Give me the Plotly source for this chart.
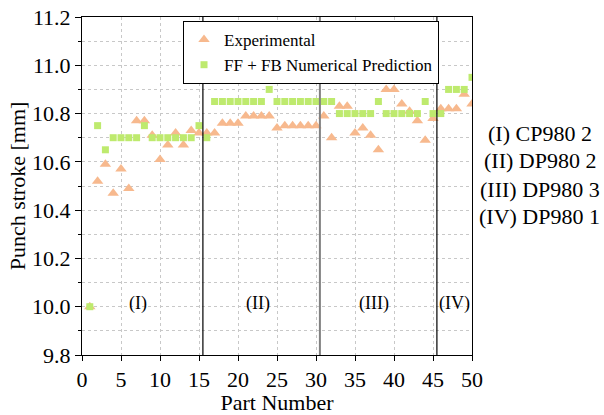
import plotly.graph_objects as go

parts = list(range(1, 51))
experimental = [10.00, 10.52, 10.59, 10.47, 10.57, 10.49, 10.77, 10.77, 10.71, 10.61,
                10.67, 10.72, 10.67, 10.73, 10.72, 10.72, 10.72, 10.76, 10.76, 10.76,
                10.79, 10.79, 10.79, 10.79, 10.74, 10.75, 10.75, 10.75, 10.75, 10.75,
                10.79, 10.70, 10.83, 10.83, 10.72, 10.74, 10.71, 10.65, 10.90, 10.90,
                10.84, 10.81, 10.77, 10.69, 10.78, 10.82, 10.82, 10.82, 10.88, 10.84]
prediction = [10.00, 10.75, 10.65, 10.70, 10.70, 10.70, 10.70, 10.75, 10.70, 10.70,
              10.70, 10.70, 10.70, 10.70, 10.75, 10.70, 10.85, 10.85, 10.85, 10.85,
              10.85, 10.85, 10.85, 10.90, 10.85, 10.85, 10.85, 10.85, 10.85, 10.85,
              10.85, 10.85, 10.80, 10.80, 10.80, 10.80, 10.80, 10.85, 10.80, 10.80,
              10.80, 10.80, 10.80, 10.85, 10.80, 10.80, 10.90, 10.90, 10.90, 10.95]
separators = [15.5, 30.5, 45.5]
separator_colors = ["black", "#808080", "black"]
separator_widths = [1.2, 2, 1.2]
group_labels = ["(I)", "(II)", "(III)", "(IV)"]
group_label_x = [7.2, 22.5, 37.4, 47.7]
group_label_y = 10.015
material_lines = ["(I) CP980 2", "(II) DP980 2", "(III) DP980 3", "(IV) DP980 1"]
material_line_y = [0.654, 0.574, 0.491, 0.411]

FONT = "Liberation Serif, Times New Roman, serif"

fig = go.Figure()
fig.add_trace(go.Scatter(
    x=parts, y=experimental, mode="markers", name="Experimental",
    marker=dict(symbol="triangle-up", size=10, color="#F7B98E"),
))
fig.add_trace(go.Scatter(
    x=parts, y=prediction, mode="markers", name="FF + FB Numerical Prediction",
    marker=dict(symbol="square", size=7, color="#BEEA6E"),
))

for xs, c, w in zip(separators, separator_colors, separator_widths):
    fig.add_shape(type="line", x0=xs, x1=xs, y0=0, y1=1, xref="x", yref="paper",
                  line=dict(color=c, width=w), layer="above")

for t, gx in zip(group_labels, group_label_x):
    fig.add_annotation(x=gx, y=group_label_y, text=t, showarrow=False,
                       font=dict(family=FONT, size=18, color="black"))

for t, ly in zip(material_lines, material_line_y):
    fig.add_annotation(x=1.174, y=ly, xref="paper", yref="paper",
                       text=t, showarrow=False, xanchor="center", yanchor="middle",
                       font=dict(family=FONT, size=22, color="black"))

fig.update_layout(
    width=604, height=415,
    margin=dict(l=82, r=132, t=17, b=60),
    paper_bgcolor="white", plot_bgcolor="white",
    font=dict(family=FONT, size=22, color="black"),
    showlegend=True,
    legend=dict(x=0.259, y=0.988, xanchor="left", yanchor="top",
                bgcolor="white", bordercolor="black", borderwidth=1,
                font=dict(family=FONT, size=17, color="black"),
                itemwidth=30, tracegroupgap=0),
)
fig.update_xaxes(
    range=[0, 50], tick0=0, dtick=5, showline=True, linecolor="black", linewidth=1,
    mirror=True, ticks="outside", ticklen=5, tickcolor="black", automargin=False,
    showgrid=True, gridcolor="#c8c8c8", griddash="dot", gridwidth=1, zeroline=False,
    title=dict(text="Part Number", font=dict(family=FONT, size=22), standoff=1),
    tickfont=dict(family=FONT, size=22),
)
fig.update_yaxes(
    range=[9.8, 11.2], tick0=9.8, dtick=0.2, tickformat=".1f",
    showline=True, linecolor="black", linewidth=1, mirror=True, automargin=False,
    ticks="outside", ticklen=6, tickcolor="black",
    showgrid=True, gridcolor="#c8c8c8", griddash="dot", gridwidth=1, zeroline=False,
    minor=dict(dtick=0.1, tick0=9.8, ticks="outside", ticklen=3, tickcolor="black",
               showgrid=True, gridcolor="#c8c8c8", griddash="dot"),
    title=dict(text="Punch stroke [mm]", font=dict(family=FONT, size=22), standoff=0),
    tickfont=dict(family=FONT, size=22),
)

fig.write_html("out.html", config={"displayModeBar": False},
               post_script="document.body.style.margin='0px';")
